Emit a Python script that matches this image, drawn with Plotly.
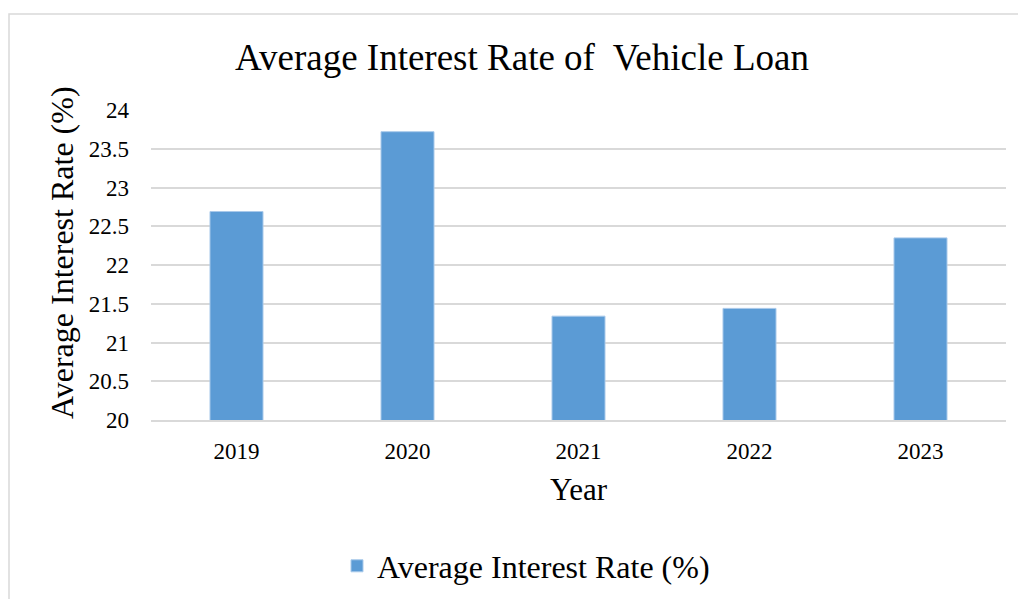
import plotly.graph_objects as go

years = ["2019", "2020", "2021", "2022", "2023"]
avg_rate = [22.69, 23.72, 21.34, 21.44, 22.35]
y_ticks = [20, 20.5, 21, 21.5, 22, 22.5, 23, 23.5, 24]
y_tick_text = ["20", "20.5", "21", "21.5", "22", "22.5", "23", "23.5", "24"]

W, H = 1018, 599
L, R, T, B = 151, 12, 110, 179
plot_w = W - L - R
plot_h = H - T - B

def px_x(p):
    return (p - L) / plot_w

def px_y(p):
    return (H - B - p) / plot_h

FONT = "Liberation Serif, Times New Roman, serif"
GRID = "#d9d9d9"

fig = go.Figure()
fig.add_trace(go.Bar(
    x=years,
    y=avg_rate,
    name="Average Interest Rate (%)",
    marker=dict(color="#5b9bd5", line=dict(color="#a9c9ea", width=1)),
    base=0,
))

fig.update_layout(
    width=W,
    height=H,
    margin=dict(l=L, r=R, t=T, b=B),
    paper_bgcolor="white",
    plot_bgcolor="white",
    font=dict(family=FONT, color="#000000"),
    bargap=0.69,
    showlegend=True,
    title=dict(
        text="Average Interest Rate of\u00a0 Vehicle Loan",
        x=522 / W, xref="container", xanchor="center",
        y=1 - 57 / H, yref="container", yanchor="middle",
        font=dict(family=FONT, size=37, color="#000000"),
    ),
    legend=dict(
        orientation="h",
        x=526 / W, xref="container", xanchor="center",
        y=1 - 566 / H, yref="container", yanchor="middle",
        font=dict(family=FONT, size=32, color="#000000"),
        itemwidth=30,
        bgcolor="rgba(0,0,0,0)",
    ),
    xaxis=dict(
        type="category",
        showgrid=False,
        showline=True,
        linecolor=GRID,
        linewidth=1.5,
        ticks="",
        tickfont=dict(family=FONT, size=23, color="#000000"),
        ticklabelstandoff=10,
    ),
    yaxis=dict(
        range=[20, 24],
        tickvals=y_ticks,
        ticktext=y_tick_text,
        showgrid=True,
        gridcolor=GRID,
        gridwidth=1.5,
        zeroline=False,
        showline=False,
        ticks="",
        tickfont=dict(family=FONT, size=23, color="#000000"),
        ticklabelstandoff=21,
    ),
)

# axis titles
fig.add_annotation(
    text="Average Interest Rate (%)",
    xref="paper", yref="paper",
    x=px_x(62), y=px_y(253),
    textangle=-90, showarrow=False,
    xanchor="center", yanchor="middle",
    font=dict(family=FONT, size=32, color="#000000"),
)
fig.add_annotation(
    text="Year",
    xref="paper", yref="paper",
    x=0.5, y=px_y(489),
    showarrow=False,
    xanchor="center", yanchor="middle",
    font=dict(family=FONT, size=31, color="#000000"),
)

# outer chart frame
fig.add_shape(
    type="rect",
    xref="paper", yref="paper",
    x0=px_x(9), x1=px_x(1030),
    y0=px_y(620), y1=px_y(14),
    line=dict(color=GRID, width=1.5),
    fillcolor="rgba(0,0,0,0)",
    layer="below",
)

fig.write_html("out.html")
